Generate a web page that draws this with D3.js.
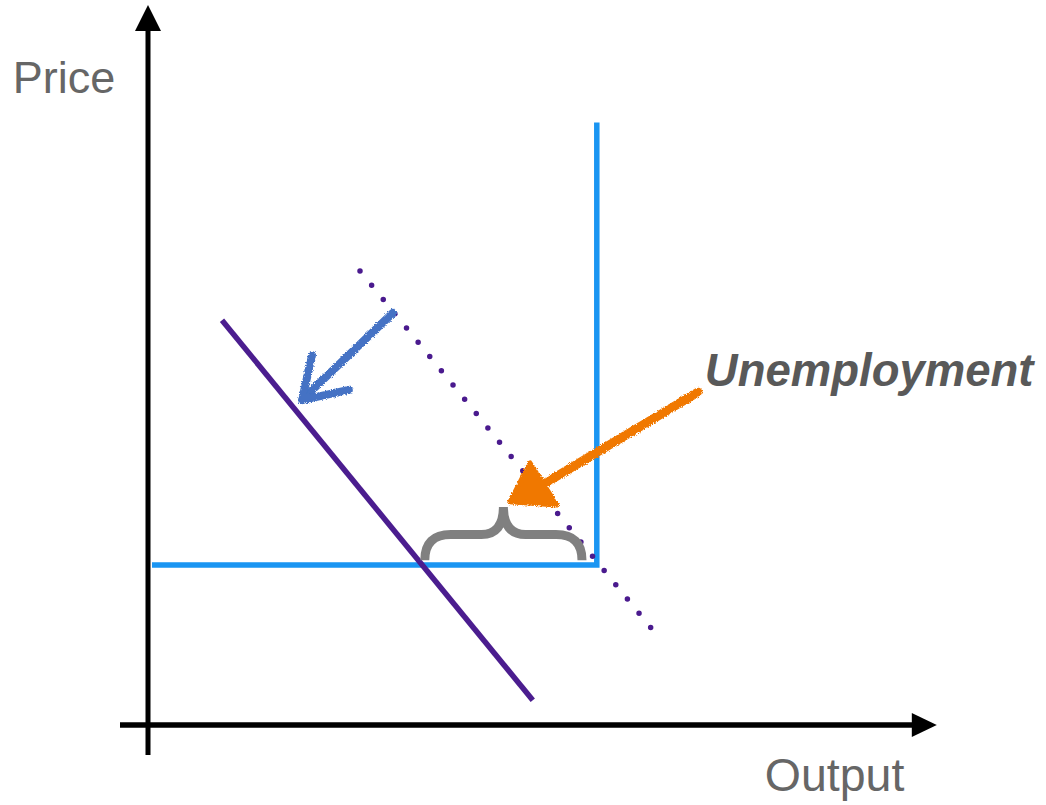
<!DOCTYPE html>
<html>
<head>
<meta charset="utf-8">
<script src="https://cdn.jsdelivr.net/npm/d3@7"></script>
<style>
  body { margin: 0; background: #fff; }
  svg { display: block; }
  .label { font-family: "Liberation Sans", Arial, sans-serif; fill: #666; }
</style>
</head>
<body>
<div id="chart"></div>
<script>
// chart data (abstract units: output on x, price on y)
const xDomain = [0, 100];
const yDomain = [0, 90];
const xAxisExtent = [-3.5, 98.6];
const yAxisExtent = [-3.75, 90];
const aggSupply = [[0.5, 20], [56.1, 20], [56.1, 75.3]];
const aggDemand = [[9.25, 50.6], [48.1, 3.1]];
const oldDemand = [[26.5, 56.75], [62.9, 12.1]];
const shiftShaft = [[30.6, 51.5], [19.5, 40.9]];
const shiftHead = [[20.5, 46.2], [19.25, 40.6], [25.1, 41.9]];
const unempShaft = [[68.75, 41.6], [49.6, 30.2]];
const unempHead = [[47.75, 32.75], [45.25, 27.9], [51.1, 27.5]];
const gapBrace = { x0: 34.6, x1: 54.25, base: 20.6, tip: 27.25 };
const labels = [
  { text: "Price", x: -16.9, y: 79, size: 45 },
  { text: "Output", x: 77.1, y: -8.25, size: 46.5 },
  { text: "Unemployment", x: 69.6, y: 42.4, size: 45.5, bold: true }
];

const svg = d3.select("#chart").append("svg")
    .attr("width", 1046)
    .attr("height", 805);

const x = d3.scaleLinear().domain(xDomain).range([148, 948]);
const y = d3.scaleLinear().domain(yDomain).range([725, 5]);

// chalky texture for the hand drawn marks
const defs = svg.append("defs");
const rough = defs.append("filter").attr("id", "rough")
    .attr("x", "-20%").attr("y", "-20%").attr("width", "140%").attr("height", "140%");
rough.append("feTurbulence").attr("type", "fractalNoise")
    .attr("baseFrequency", 0.9).attr("numOctaves", 2).attr("result", "noise");
rough.append("feDisplacementMap").attr("in", "SourceGraphic").attr("in2", "noise")
    .attr("scale", 4).attr("xChannelSelector", "R").attr("yChannelSelector", "G");

const line = d3.line().x(d => x(d[0])).y(d => y(d[1]));

// axes with arrow heads
svg.append("line")
    .attr("x1", x(0)).attr("x2", x(0))
    .attr("y1", y(yAxisExtent[0])).attr("y2", y(yAxisExtent[1]) + 20)
    .attr("stroke", "#000").attr("stroke-width", 5);
svg.append("path")
    .attr("d", `M${x(0)},${y(yAxisExtent[1])} L${x(0) - 13},${y(yAxisExtent[1]) + 26} L${x(0) + 13},${y(yAxisExtent[1]) + 26} Z`)
    .attr("fill", "#000");

svg.append("line")
    .attr("x1", x(xAxisExtent[0])).attr("x2", x(xAxisExtent[1]) - 20)
    .attr("y1", y(0)).attr("y2", y(0))
    .attr("stroke", "#000").attr("stroke-width", 5.5);
svg.append("path")
    .attr("d", `M${x(xAxisExtent[1])},${y(0)} L${x(xAxisExtent[1]) - 25},${y(0) - 12} L${x(xAxisExtent[1]) - 25},${y(0) + 12} Z`)
    .attr("fill", "#000");

// aggregate supply (L shape)
svg.append("path")
    .attr("d", line(aggSupply))
    .attr("fill", "none")
    .attr("stroke", "#1a95f2")
    .attr("stroke-width", 5.5);

// old demand, dotted
svg.append("path")
    .attr("d", line(oldDemand))
    .attr("fill", "none")
    .attr("stroke", "#4a1a8e")
    .attr("stroke-width", 5.5)
    .attr("stroke-linecap", "round")
    .attr("stroke-dasharray", "0 18.4");

// new demand
svg.append("path")
    .attr("d", line(aggDemand))
    .attr("fill", "none")
    .attr("stroke", "#4b1d8f")
    .attr("stroke-width", 5.5);

// brace over the output gap
const bx0 = x(gapBrace.x0), bx1 = x(gapBrace.x1), bm = (bx0 + bx1) / 2;
const bb = y(gapBrace.base), bt = y(gapBrace.tip), ba = (bb + bt) / 2 + 1;
svg.append("path")
    .attr("d", `M${bx0},${bb} Q${bx0},${ba} ${bx0 + 26},${ba} L${bm - 22},${ba} Q${bm},${ba} ${bm},${bt}` +
               ` Q${bm},${ba} ${bm + 22},${ba} L${bx1 - 26},${ba} Q${bx1},${ba} ${bx1},${bb}`)
    .attr("fill", "none")
    .attr("stroke", "#808080")
    .attr("stroke-width", 9);

// hand drawn shift arrow (blue)
const sketch = svg.append("g").attr("filter", "url(#rough)");
sketch.append("path")
    .attr("d", line(shiftShaft))
    .attr("fill", "none").attr("stroke", "#4472c4")
    .attr("stroke-width", 8).attr("stroke-linecap", "round");
sketch.append("path")
    .attr("d", line(shiftHead))
    .attr("fill", "none").attr("stroke", "#4472c4")
    .attr("stroke-width", 8).attr("stroke-linecap", "round").attr("stroke-linejoin", "round");

// unemployment arrow (orange)
sketch.append("path")
    .attr("d", line(unempShaft))
    .attr("fill", "none").attr("stroke", "#f07800")
    .attr("stroke-width", 9).attr("stroke-linecap", "round");
sketch.append("path")
    .attr("d", line(unempHead) + "Z")
    .attr("fill", "#f07800").attr("stroke", "#f07800")
    .attr("stroke-width", 5).attr("stroke-linejoin", "round");

// labels
svg.selectAll("text.label")
    .data(labels)
    .enter().append("text")
    .attr("class", "label")
    .attr("x", d => x(d.x))
    .attr("y", d => y(d.y))
    .attr("font-size", d => d.size)
    .attr("font-weight", d => d.bold ? "bold" : "normal")
    .attr("font-style", d => d.bold ? "italic" : "normal")
    .style("fill", d => d.bold ? "#595959" : "#666")
    .text(d => d.text);
</script>
</body>
</html>
